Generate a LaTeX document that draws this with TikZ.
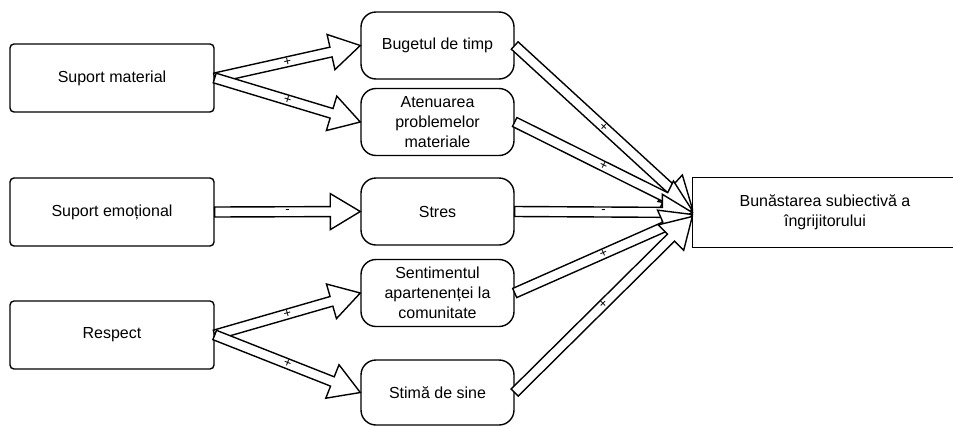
\documentclass[tikz,border=0pt]{standalone}
\usepackage{fontspec}
\setmainfont{Liberation Sans}
\usetikzlibrary{calc}

\tikzset{
  leftbox/.style={draw, line width=1.4pt, rounded corners=4pt, minimum width=204pt,
    minimum height=68pt, inner sep=0pt, align=center, font=\fontsize{16}{20}\selectfont},
  midbox/.style={leftbox, rounded corners=15pt, minimum width=153pt, minimum height=67pt},
  rightbox/.style={leftbox, draw=none, minimum width=264pt, minimum height=69pt},
  flexline/.style={draw, fill=white, line width=1.4pt, line join=miter},
  flexlabel/.style={inner sep=0pt, font=\fontsize{13}{13}\selectfont}
}

% block arrow from #2 to #3, label #1, label node named #4
\newcommand{\flexarrow}[4][+]{%
  \path let \p1=(#2), \p2=(#3) in \pgfextra{%
    \pgfmathanglebetweenpoints{\pgfpoint{\x1}{\y1}}{\pgfpoint{\x2}{\y2}}%
    \xdef\faangle{\pgfmathresult}%
    \pgfmathveclen{\x2-\x1}{\y2-\y1}%
    \xdef\falength{\pgfmathresult}};
  \begin{scope}[shift={(#2)}, rotate=\faangle]
    \draw[flexline] (0pt,5pt) -- (\falength pt-30pt,5pt) -- (\falength pt-30pt,18pt)
      -- (\falength pt,0pt) -- (\falength pt-30pt,-18pt) -- (\falength pt-30pt,-5pt)
      -- (0pt,-5pt) -- cycle;
    \node[flexlabel, rotate=\faangle] (#4) at (\falength pt/2,0pt) {#1};
  \end{scope}}

\begin{document}
\begin{tikzpicture}[x=1pt, y=-1pt]

\useasboundingbox (0,0) rectangle (953,426);

% left column
\node[leftbox] (sm) at (112,78) {Suport material};
\node[leftbox] (se) at (112,212) {Suport emoțional};
\node[leftbox] (rs) at (112,335) {Respect};

% middle column
\node[midbox] (bt) at (437.5,45.5) {Bugetul de timp};
\node[midbox] (ap) at (437.5,122) {Atenuarea\\problemelor\\materiale};
\node[midbox] (st) at (437.5,211.5) {Stres};
\node[midbox] (sa) at (437.5,293) {Sentimentul\\apartenenței la\\comunitate};
\node[midbox, minimum height=65pt] (ss) at (437.5,392.5) {Stimă de sine};

% outcome, box runs off the right edge
\node[rightbox] (bs) at (825,212.5) {Bunăstarea subiectivă a\\îngrijitorului};
\draw[line width=1.4pt] (bs.north west) rectangle ([xshift=30pt]bs.south east);

\flexarrow{sm.east}{bt.west}{pa}
\flexarrow{sm.east}{ap.west}{pb}
\flexarrow[-]{se.east}{st.west}{ma}
\flexarrow{rs.east}{sa.west}{pc}
\flexarrow{rs.east}{ss.west}{pd}

\flexarrow{bt.east}{[yshift=4pt]bs.west}{pe}
\flexarrow{ap.east}{[yshift=2pt]bs.west}{pf}
\flexarrow[-]{st.east}{bs.west}{mb}
\flexarrow{sa.east}{[yshift=-2pt]bs.west}{pg}
\flexarrow{ss.east}{[yshift=-4pt]bs.west}{ph}

\end{tikzpicture}
\end{document}
